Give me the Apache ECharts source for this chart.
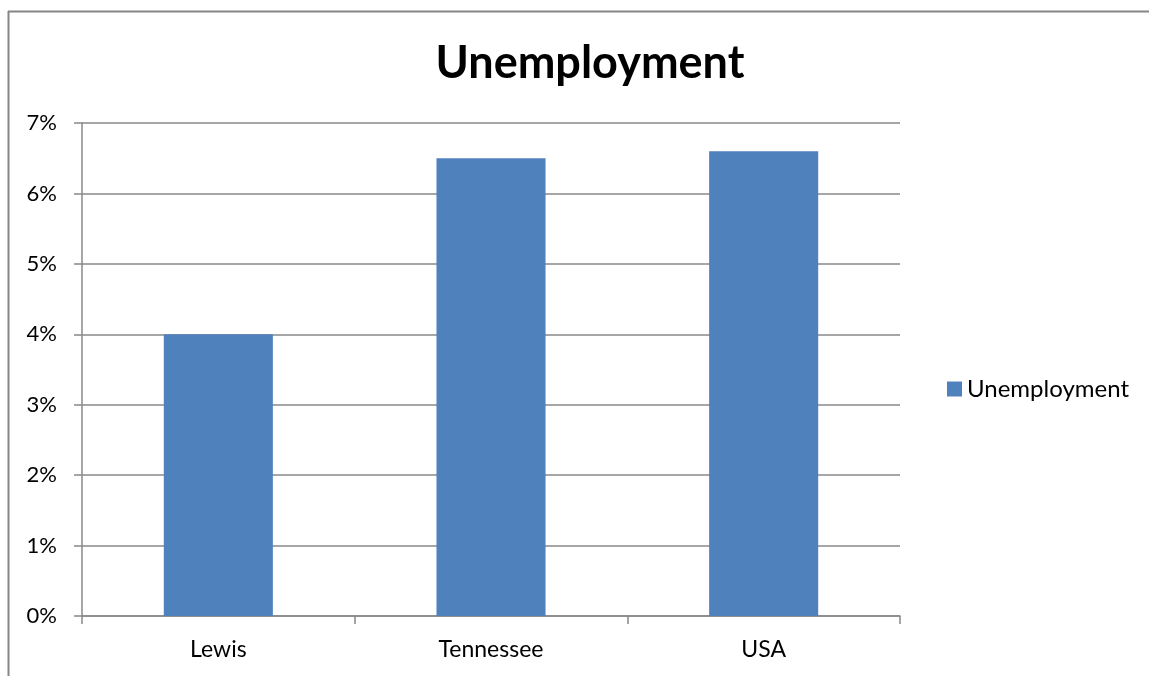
<!DOCTYPE html>
<html>
<head>
<meta charset="utf-8">
<script src="https://cdn.jsdelivr.net/npm/echarts@6/dist/echarts.min.js"></script>
<style>
  html, body { margin: 0; padding: 0; background: #fff; }
  #main { width: 1149px; height: 676px; }
</style>
</head>
<body>
<div id="main"></div>
<script>
  let categories = ['Lewis', 'Tennessee', 'USA'];
  let values = [4.0, 6.5, 6.6];
  let seriesName = 'Unemployment';

  let myChart = echarts.init(document.getElementById('main'));
  let font = 'Lato, "Open Sans", sans-serif';
  let option = {
    backgroundColor: '#fff',
    animation: false,
    title: {
      text: 'Unemployment',
      left: 585,
      top: 36,
      textAlign: 'center',
      textStyle: { fontFamily: font, fontSize: 45, fontWeight: 'bold', color: '#000' }
    },
    legend: {
      left: 942,
      top: 372,
      itemWidth: 15,
      itemHeight: 15,
      itemGap: 8,
      icon: 'rect',
      textStyle: { fontFamily: font, fontSize: 24, color: '#000' },
      data: [seriesName]
    },
    graphic: [
      { type: 'line', shape: { x1: 8.5, y1: 11, x2: 8.5, y2: 676 }, style: { stroke: '#868686', lineWidth: 2 } },
      { type: 'line', shape: { x1: 8, y1: 11.5, x2: 1149, y2: 11.5 }, style: { stroke: '#868686', lineWidth: 2 } }
    ],
    grid: { left: 82, top: 123, width: 818, height: 493, containLabel: false },
    xAxis: {
      type: 'category',
      data: categories,
      axisLine: { lineStyle: { color: '#888', width: 1.5 } },
      axisTick: { show: true, length: 8, alignWithLabel: false, lineStyle: { color: '#888', width: 1.5 } },
      axisLabel: { fontFamily: font, fontSize: 23, color: '#000', margin: 22 }
    },
    yAxis: {
      type: 'value',
      min: 0,
      max: 7,
      interval: 1,
      axisLine: { show: true, lineStyle: { color: '#888', width: 1.5 } },
      axisTick: { show: true, length: 8, lineStyle: { color: '#888', width: 1.5 } },
      splitLine: { lineStyle: { color: '#888', width: 1.5 } },
      axisLabel: { fontFamily: font, fontSize: 22, color: '#000', margin: 25, formatter: '{value}%' }
    },
    series: [{
      name: seriesName,
      type: 'bar',
      data: values,
      barWidth: '40%',
      itemStyle: { color: '#4f81bd' }
    }]
  };
  myChart.setOption(option);
</script>
</body>
</html>
